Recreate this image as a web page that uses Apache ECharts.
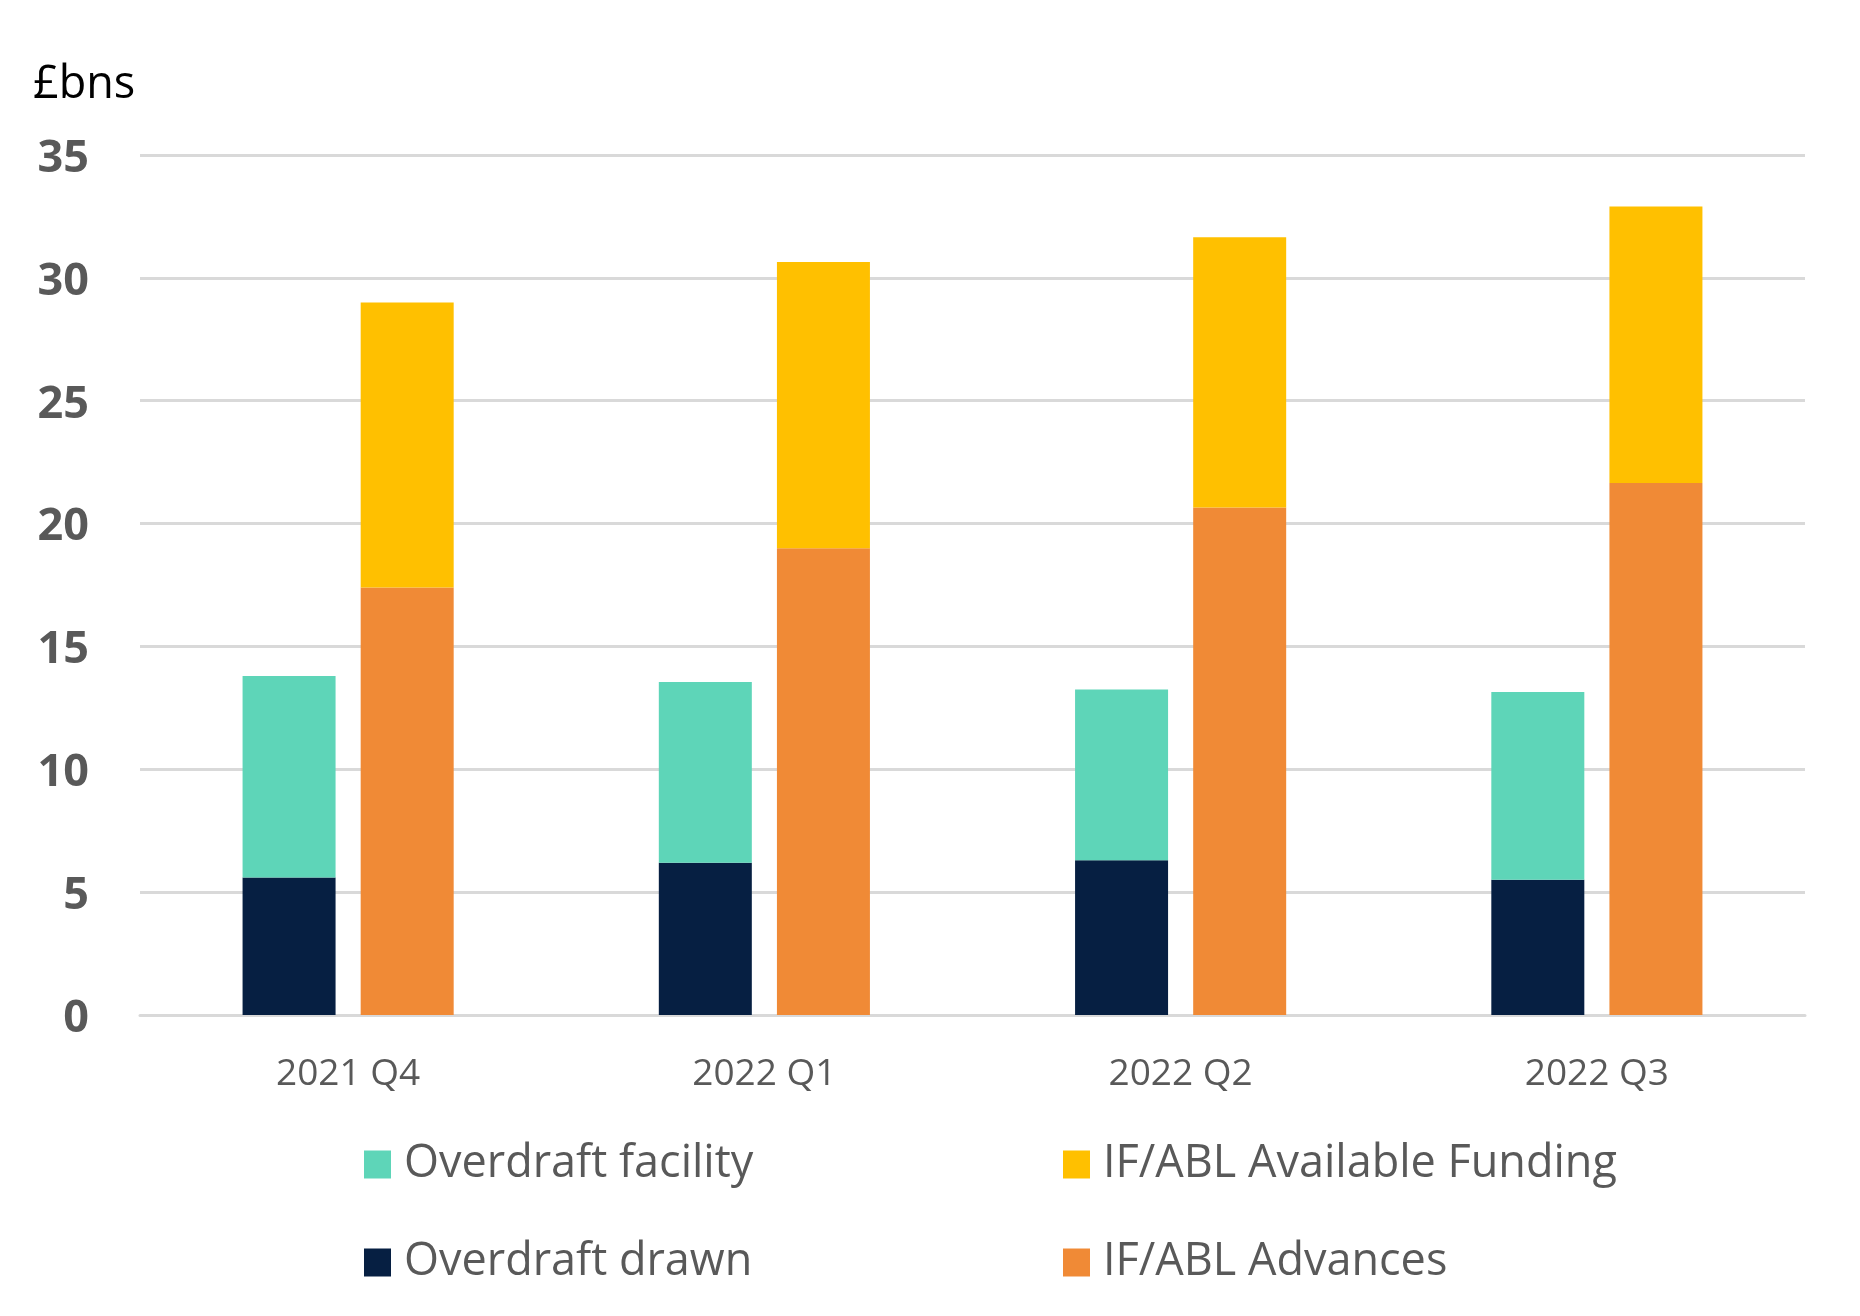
<!DOCTYPE html>
<html>
<head>
<meta charset="utf-8">
<script src="https://cdn.jsdelivr.net/npm/echarts@6/dist/echarts.min.js"></script>
<style>
  html, body { margin: 0; padding: 0; background: #ffffff; }
  #chart { width: 1860px; height: 1316px; }
</style>
</head>
<body>
<div id="chart"></div>
<script>
// ---- Data (£bns) ----
const categories = ['2021 Q4', '2022 Q1', '2022 Q2', '2022 Q3'];
const overdraftDrawn = [5.6, 6.2, 6.3, 5.5];
const overdraftFacility = [13.8, 13.55, 13.25, 13.15];
const ifAblAdvances = [17.4, 19.0, 20.65, 21.65];
const ifAblAvailableFunding = [29.0, 30.65, 31.65, 32.9];
const yTicks = { min: 0, max: 35, interval: 5 };
const unitLabel = '£bns';

// Stacked segments: the facility / available funding totals are drawn on top of the used parts
const facilityRemainder = overdraftFacility.map((v, i) => +(v - overdraftDrawn[i]).toFixed(2));
const availableRemainder = ifAblAvailableFunding.map((v, i) => +(v - ifAblAdvances[i]).toFixed(2));

const FONT = '"Open Sans", "Liberation Sans", sans-serif';
const GREY = '#595959';
const COLORS = {
  facility: '#5ED5B8',
  drawn: '#061F42',
  available: '#FFC000',
  advances: '#F08A36'
};

const chart = echarts.init(document.getElementById('chart'), null, { renderer: 'canvas' });

const legendCommon = {
  orient: 'vertical',
  icon: 'rect',
  itemWidth: 27,
  itemHeight: 28,
  itemGap: 53,
  selectedMode: false,
  textStyle: {
    fontFamily: FONT,
    fontSize: 45,
    lineHeight: 44,
    color: GREY,
    padding: [0, 0, 0, 8]
  }
};

chart.setOption({
  animation: false,
  backgroundColor: '#ffffff',
  graphic: [{
    type: 'text',
    left: 33,
    top: 63,
    style: {
      text: unitLabel,
      fontFamily: FONT,
      fontSize: 45,
      fill: '#000000'
    }
  }],
  legend: [
    Object.assign({}, legendCommon, {
      left: 359,
      top: 1137,
      data: ['Overdraft facility', 'Overdraft drawn']
    }),
    Object.assign({}, legendCommon, {
      left: 1058,
      top: 1137,
      data: ['IF/ABL Available Funding', 'IF/ABL Advances']
    })
  ],
  grid: {
    left: 140,
    right: 55,
    top: 155,
    bottom: 301,
    containLabel: false
  },
  xAxis: {
    type: 'category',
    data: categories,
    axisTick: { show: false },
    axisLine: { show: true, lineStyle: { color: '#D9D9D9', width: 3 } },
    axisLabel: {
      margin: 41,
      fontFamily: FONT,
      fontSize: 37,
      color: GREY
    }
  },
  yAxis: {
    type: 'value',
    min: yTicks.min,
    max: yTicks.max,
    interval: yTicks.interval,
    axisLine: { show: false },
    axisTick: { show: false },
    splitLine: { show: true, lineStyle: { color: '#D9D9D9', width: 3 } },
    axisLabel: {
      margin: 51,
      formatter: '{v|{value}}',
      rich: {
        v: {
          fontFamily: FONT,
          fontSize: 45,
          fontWeight: 'bold',
          color: GREY,
          padding: [8, 0, 0, 0]
        }
      }
    }
  },
  series: [
    {
      name: 'Overdraft drawn',
      type: 'bar',
      stack: 'overdraft',
      data: overdraftDrawn,
      barWidth: 93,
      barGap: '27%',
      itemStyle: { color: COLORS.drawn }
    },
    {
      name: 'Overdraft facility',
      type: 'bar',
      stack: 'overdraft',
      data: facilityRemainder,
      barWidth: 93,
      barGap: '27%',
      itemStyle: { color: COLORS.facility }
    },
    {
      name: 'IF/ABL Advances',
      type: 'bar',
      stack: 'ifabl',
      data: ifAblAdvances,
      barWidth: 93,
      barGap: '27%',
      itemStyle: { color: COLORS.advances }
    },
    {
      name: 'IF/ABL Available Funding',
      type: 'bar',
      stack: 'ifabl',
      data: availableRemainder,
      barWidth: 93,
      barGap: '27%',
      itemStyle: { color: COLORS.available }
    }
  ]
});
</script>
</body>
</html>
